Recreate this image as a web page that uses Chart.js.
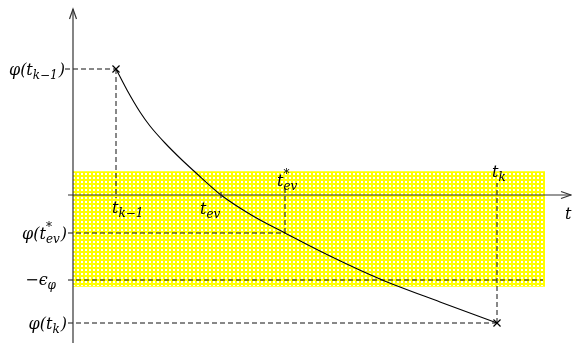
<!DOCTYPE html>
<html>
<head>
<meta charset="utf-8">
<script src="https://cdn.jsdelivr.net/npm/chart.js@4"></script>
<style>
    html, body { margin: 0; padding: 0; background: #fff; }
    #khung { width: 572px; height: 344px; }
</style>
</head>
<body>
<div id="khung"><canvas id="bieuDo" width="572" height="344"></canvas></div>
<script>
// ==================== DỮ LIỆU ====================
// đường cong phi(t)
const curveT = [4.3, 5.4, 6.7, 7.7, 9.2, 10.9, 12.2, 14.8, 18.0, 21.2, 25.7, 30.7, 36.7, 42.4];
const curvePhi = [12.6, 10.5, 8.3, 6.9, 5.2, 3.5, 2.3, 0, -2.1, -3.8, -6.1, -8.4, -10.7, -12.8];
// t_{k-1}, t_k và giá trị phi tại đó
const stepT = [4.3, 42.4];
const stepPhi = [12.6, -12.8];
// t_ev, t_ev*
const eventT = [14.8, 21.2];
const eventPhi = [0, -3.8];
const epsPhi = 8.5;
// dải dung sai (vùng vàng)
const bandT = [0, 47.2];
const bandPhi = [2.3, -9.1];
// trục
const axisT = [-0.5, 49.8];
const axisPhi = [-14.8, 18.6];

const MAIN = 'italic 16px "DejaVu Serif", "Liberation Serif", serif';
const SMALL = 'italic 12px "DejaVu Serif", "Liberation Serif", serif';

// ==================== HÀM PHỤ ====================
const seg = (x1, y1, x2, y2) => [{ x: x1, y: y1 }, { x: x2, y: y2 }];

function duongNet(data) {
    return { data, showLine: true, borderColor: "#111", borderWidth: 1, borderDash: [5, 3], pointRadius: 0, fill: false, order: 2 };
}

function duongLien(data, color) {
    return { data, showLine: true, borderColor: color, borderWidth: 1.2, pointRadius: 0, fill: false, order: 1 };
}

function taoMauVang() {
    const tile = document.createElement("canvas");
    tile.width = 4; tile.height = 4;
    const tc = tile.getContext("2d");
    tc.fillStyle = "#ffff00";
    tc.fillRect(0, 0, 4, 4);
    tc.fillStyle = "#ffffff";
    tc.fillRect(1, 1, 2, 2);
    return document.getElementById("bieuDo").getContext("2d").createPattern(tile, "repeat");
}

function veCongThuc(ctx, parts, x, y, align) {
    const widths = parts.map(p => {
        if (p.m !== undefined) { ctx.font = MAIN; return ctx.measureText(p.m).width; }
        ctx.font = SMALL;
        return Math.max(p.sub ? ctx.measureText(p.sub).width : 0, p.sup ? ctx.measureText(p.sup).width : 0) + 1;
    });
    let cx = align === "right" ? x - widths.reduce((a, b) => a + b, 0) : x;
    ctx.textAlign = "left";
    ctx.textBaseline = "alphabetic";
    ctx.fillStyle = "#000";
    parts.forEach((p, i) => {
        if (p.m !== undefined) {
            ctx.font = MAIN;
            ctx.fillText(p.m, cx, y);
        } else {
            ctx.font = SMALL;
            if (p.sub) ctx.fillText(p.sub, cx, y + 4);
            if (p.sup) ctx.fillText(p.sup, cx, y - 8);
        }
        cx += widths[i];
    });
}

// ==================== PLUGIN: MŨI TÊN + NHÃN ====================
const nhanPlugin = {
    id: "nhan",
    afterDatasetsDraw(chart) {
        const ctx = chart.ctx;
        const xs = chart.scales.x, ys = chart.scales.y;
        const x0 = xs.getPixelForValue(0), y0 = ys.getPixelForValue(0);
        const px = v => xs.getPixelForValue(v), py = v => ys.getPixelForValue(v);

        ctx.save();
        // mũi tên trục
        ctx.strokeStyle = "#333";
        ctx.lineWidth = 1.2;
        const yTop = py(axisPhi[1]), xEnd = px(axisT[1]);
        ctx.beginPath();
        ctx.moveTo(x0 - 3.5, yTop + 10); ctx.lineTo(x0, yTop); ctx.lineTo(x0 + 3.5, yTop + 10);
        ctx.moveTo(xEnd - 10, y0 - 3.5); ctx.lineTo(xEnd, y0); ctx.lineTo(xEnd - 10, y0 + 3.5);
        ctx.stroke();
        // vạch t_ev
        ctx.beginPath();
        ctx.moveTo(px(eventT[0]), y0 - 3); ctx.lineTo(px(eventT[0]), y0 + 3);
        ctx.stroke();

        // nhãn trục tung
        veCongThuc(ctx, [{ m: "φ(t" }, { sub: "k−1" }, { m: ")" }], x0 - 8, py(stepPhi[0]) + 6, "right");
        veCongThuc(ctx, [{ m: "φ(t" }, { sup: "*", sub: "ev" }, { m: ")" }], x0 - 6, py(eventPhi[1]) + 6, "right");
        veCongThuc(ctx, [{ m: "−ϵ" }, { sub: "φ" }], x0 - 16, py(-epsPhi) + 5, "right");
        veCongThuc(ctx, [{ m: "φ(t" }, { sub: "k" }, { m: ")" }], x0 - 6, py(stepPhi[1]) + 6, "right");

        // nhãn trục hoành
        veCongThuc(ctx, [{ m: "t" }, { sub: "k−1" }], px(stepT[0]) - 4, y0 + 18, "left");
        veCongThuc(ctx, [{ m: "t" }, { sub: "ev" }], px(eventT[0]) - 21, y0 + 19, "left");
        veCongThuc(ctx, [{ m: "t" }, { sup: "*", sub: "ev" }], px(eventT[1]) - 8, y0 - 9, "left");
        veCongThuc(ctx, [{ m: "t" }, { sub: "k" }], px(stepT[1]) - 5, y0 - 18, "left");
        veCongThuc(ctx, [{ m: "t" }], xEnd - 6, y0 + 24, "left");
        ctx.restore();
    }
};

// ==================== VẼ BIỂU ĐỒ ====================
function veBieuDo() {
    const mauVang = taoMauVang();
    const curve = curveT.map((t, i) => ({ x: t, y: curvePhi[i] }));

    new Chart(document.getElementById("bieuDo"), {
        type: "scatter",
        data: {
            datasets: [
                // dải vàng
                { data: seg(bandT[0], bandPhi[0], bandT[1], bandPhi[0]), showLine: true, pointRadius: 0, borderColor: "#ffff00", borderWidth: 1.5, backgroundColor: mauVang, fill: "+1", order: 10 },
                { data: seg(bandT[0], bandPhi[1], bandT[1], bandPhi[1]), showLine: true, pointRadius: 0, borderColor: "#ffff00", borderWidth: 1.5, fill: false, order: 10 },
                // trục
                duongLien(seg(axisT[0], 0, axisT[1], 0), "#333"),
                duongLien(seg(0, axisPhi[0], 0, axisPhi[1]), "#333"),
                // đường nét đứt
                duongNet(seg(-0.8, stepPhi[0], stepT[0], stepPhi[0])),
                duongNet(seg(stepT[0], stepPhi[0], stepT[0], -0.3)),
                duongNet(seg(-0.5, eventPhi[1], eventT[1], eventPhi[1])),
                duongNet(seg(eventT[1], eventPhi[1], eventT[1], 0.8)),
                duongNet(seg(-0.5, -epsPhi, bandT[1] - 0.2, -epsPhi)),
                duongNet(seg(-0.5, stepPhi[1], stepT[1], stepPhi[1])),
                duongNet(seg(stepT[1], stepPhi[1], stepT[1], 1.2)),
                // đường cong
                { data: curve, showLine: true, borderColor: "#000", borderWidth: 1.1, pointRadius: 0, cubicInterpolationMode: "monotone", fill: false, order: 0 },
                // điểm đầu/cuối
                { data: stepT.map((t, i) => ({ x: t, y: stepPhi[i] })), pointStyle: "crossRot", pointRadius: 5, borderColor: "#000", borderWidth: 1.2, order: 0 }
            ]
        },
        options: {
            responsive: false,
            animation: false,
            layout: { padding: 0, autoPadding: false },
            plugins: { legend: { display: false }, tooltip: { enabled: false } },
            scales: {
                x: { type: "linear", display: false, min: -7.3, max: 49.9 },
                y: { type: "linear", display: false, min: -14.9, max: 19.5 }
            }
        },
        plugins: [nhanPlugin]
    });
}

document.addEventListener("DOMContentLoaded", veBieuDo);
</script>
</body>
</html>
